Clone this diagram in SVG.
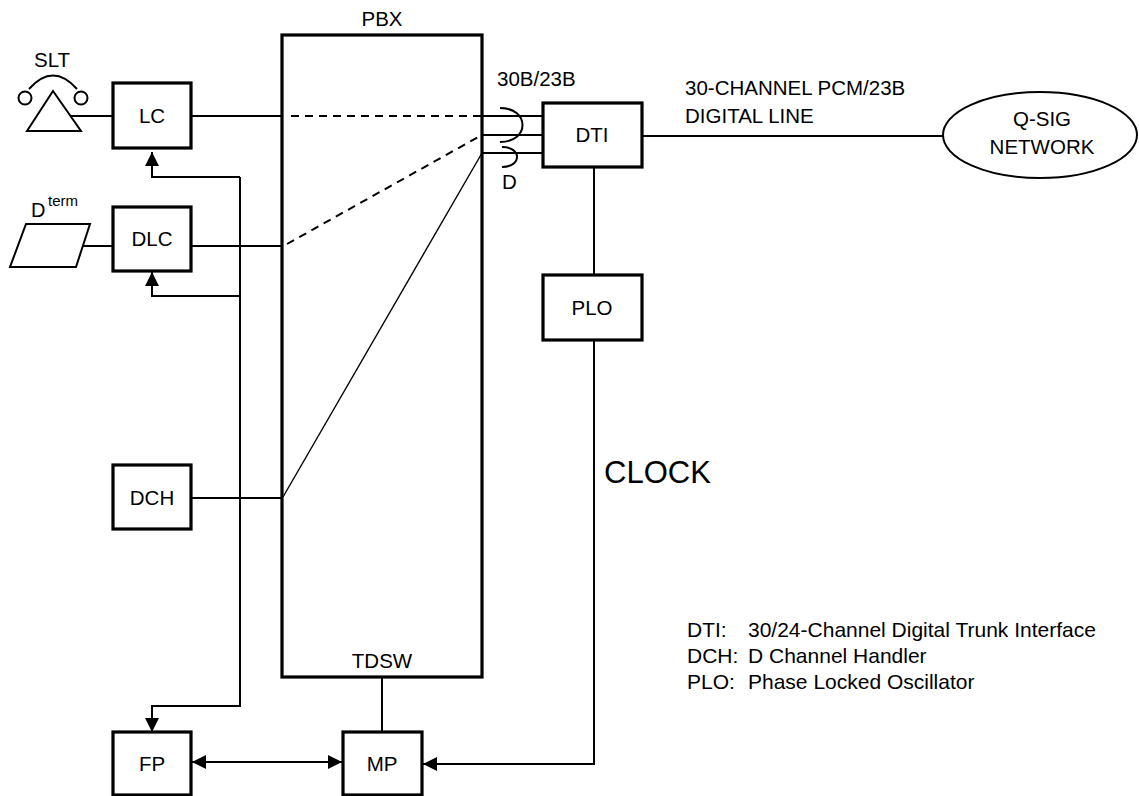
<svg xmlns="http://www.w3.org/2000/svg" width="1139" height="796" viewBox="0 0 1139 796">
<style>
text{font-family:"Liberation Sans",Arial,sans-serif;fill:#000}
.box{fill:#fff;stroke:#000;stroke-width:3.2}
.lbl{font-size:20.5px;text-anchor:middle}
.sm{font-size:20.5px}
.ln{fill:none;stroke:#000;stroke-width:2}
.thin{fill:none;stroke:#000;stroke-width:1.4}
.dash{fill:none;stroke:#000;stroke-width:2;stroke-dasharray:8 6}
</style>
<defs>
<marker id="ah" markerUnits="userSpaceOnUse" markerWidth="14" markerHeight="14" viewBox="0 0 14 14" refX="14" refY="7" orient="auto-start-reverse">
<path d="M0,0 L14,7 L0,14 z" fill="#000"/>
</marker>
</defs>
<rect width="1139" height="796" fill="#fff"/>
<g id="connectors">
<line class="ln" x1="71" y1="116" x2="113" y2="116"/>
<line class="ln" x1="191" y1="116" x2="282" y2="116"/>
<line class="dash" x1="291" y1="116" x2="482" y2="116"/>
<line class="ln" x1="482" y1="116" x2="543" y2="116"/>
<line class="ln" x1="482" y1="135" x2="543" y2="135"/>
<line class="ln" x1="482" y1="153" x2="543" y2="153"/>
<line class="ln" x1="83" y1="246" x2="113" y2="246"/>
<line class="ln" x1="191" y1="246" x2="282" y2="246"/>
<line class="dash" x1="287" y1="244" x2="480" y2="136"/>
<line class="ln" x1="191" y1="498" x2="282" y2="498"/>
<line class="thin" x1="283" y1="497" x2="482" y2="153"/>
<polyline class="ln" points="240,177 240,706 152,706 152,732" marker-end="url(#ah)"/>
<polyline class="ln" points="240,177 152,177 152,152" marker-end="url(#ah)"/>
<polyline class="ln" points="240,296 152,296 152,272" marker-end="url(#ah)"/>
<line class="ln" x1="642" y1="136" x2="943" y2="136"/>
<line class="ln" x1="594" y1="167" x2="594" y2="275"/>
<polyline class="ln" points="594,340 594,764 423,764" marker-end="url(#ah)"/>
<line class="ln" x1="382" y1="677" x2="382" y2="732"/>
<line class="ln" x1="192" y1="762" x2="342" y2="762" marker-start="url(#ah)" marker-end="url(#ah)"/>
<path class="ln" d="M500,108 C530,108 530,142 500,142"/>
<path class="ln" d="M502,147 C522,147 522,167 502,167"/>
</g>
<g id="pbx">
<rect x="282" y="35" width="200" height="642" fill="none" stroke="#000" stroke-width="3.2"/>
<text class="sm" x="382" y="26" text-anchor="middle">PBX</text>
<text class="sm" x="382" y="668" text-anchor="middle">TDSW</text>
</g>
<g id="slt">
<text class="sm" x="52" y="67" text-anchor="middle">SLT</text>
<path class="ln" d="M29,89 Q53,62 77,89"/>
<circle cx="25" cy="98" r="6.5" fill="#fff" stroke="#000" stroke-width="2"/>
<circle cx="81" cy="98" r="6.5" fill="#fff" stroke="#000" stroke-width="2"/>
<polygon points="53,91 81,131 27,131" fill="#fff" stroke="#000" stroke-width="2"/>
</g>
<g id="lc"><rect class="box" x="113" y="83" width="78" height="65"/><text class="lbl" x="152" y="123">LC</text></g>
<g id="dterm">
<text x="31" y="217" font-size="20">D</text><text x="48" y="206" font-size="15">term</text>
<polygon points="26,224 90,224 76,267 10,267" fill="#fff" stroke="#000" stroke-width="2"/>
</g>
<g id="dlc"><rect class="box" x="113" y="207" width="78" height="64"/><text class="lbl" x="152" y="246">DLC</text></g>
<g id="dch"><rect class="box" x="113" y="465" width="78" height="64"/><text class="lbl" x="152" y="505">DCH</text></g>
<g id="fp"><rect class="box" x="113" y="732" width="78" height="63"/><text class="lbl" x="152" y="771">FP</text></g>
<g id="mp"><rect class="box" x="343" y="732" width="79" height="63"/><text class="lbl" x="382" y="771">MP</text></g>
<g id="dti"><rect class="box" x="543" y="103" width="99" height="64"/><text class="lbl" x="592" y="142">DTI</text></g>
<g id="plo"><rect class="box" x="543" y="275" width="99" height="65"/><text class="lbl" x="592" y="315">PLO</text></g>
<g id="qsig">
<ellipse cx="1040" cy="135" rx="97" ry="43" fill="#fff" stroke="#000" stroke-width="2"/>
<text class="lbl" x="1042" y="126">Q-SIG</text>
<text class="lbl" x="1042" y="154">NETWORK</text>
</g>
<g id="labels">
<text class="sm" x="497" y="86">30B/23B</text>
<text class="sm" x="502" y="189">D</text>
<text class="sm" x="685" y="95">30-CHANNEL PCM/23B</text>
<text class="sm" x="685" y="123">DIGITAL LINE</text>
<text x="604" y="483" font-size="31">CLOCK</text>
</g>
<g id="legend" font-size="21">
<text x="687" y="637">DTI:</text><text x="748" y="637">30/24-Channel Digital Trunk Interface</text>
<text x="687" y="663">DCH:</text><text x="748" y="663">D Channel Handler</text>
<text x="687" y="689">PLO:</text><text x="748" y="689">Phase Locked Oscillator</text>
</g>
</svg>
